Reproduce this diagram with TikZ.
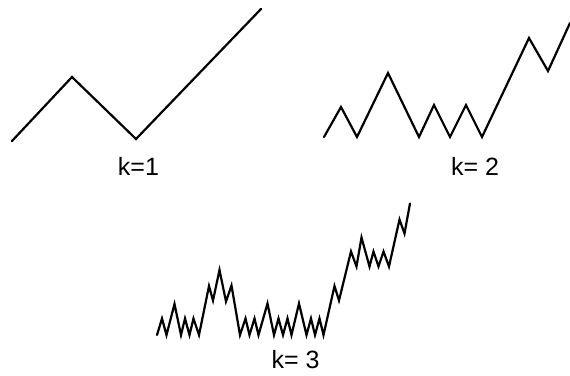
\documentclass[tikz,border=0pt]{standalone}
\usepackage{fontspec}
\setmainfont{Liberation Sans}
\tikzstyle{curve}=[line width=1.1pt,line join=miter,line cap=round]
\tikzstyle{lbl}=[inner sep=0pt,font=\fontsize{12.5}{15}\selectfont]

\begin{document}
\begin{tikzpicture}[x=0.5pt,y=-0.5pt]
\useasboundingbox (0,0) rectangle (570,376);
\draw [curve] (12,141) -- (72,77) -- (136,139) -- (261,9);
\draw [curve] (324,137) -- (341,107) -- (357,137) -- (388,73) -- (419,137) -- (434,105)
  -- (450,137) -- (466,105) -- (482,137) -- (529,38) -- (548,71) -- (570,23);
\draw [curve] (157,335) -- (162,318.5) -- (166.5,335) -- (174.5,304) -- (181,335)
  -- (185,318.5) -- (189.5,335) -- (193.5,318.5) -- (199,335) -- (209,286) -- (213,300.5)
  -- (219.5,270) -- (226,301.5) -- (231.5,285.5) -- (240,335) -- (245.5,318.5) -- (249.5,335)
  -- (254.5,318.5) -- (258.5,335) -- (267.5,303.5) -- (274,335) -- (278.5,318.5) -- (283,335)
  -- (287.5,318.5) -- (291.5,335) -- (299,303.5) -- (306.5,335) -- (311,318.5) -- (315,335)
  -- (319.5,318.5) -- (323.5,335) -- (334.5,286) -- (339,300.5) -- (351,251.5) -- (356.5,266.5)
  -- (361.5,237.5) -- (369.5,266.5) -- (373.5,251.5) -- (378.5,266.5) -- (383.5,251.5)
  -- (389,266.5) -- (399.5,219.5) -- (404.5,233.5) -- (410,203.5);
\node (k1) [lbl] at (138.5,166) {k=1};
\node (k2) [lbl] at (475,166.5) {k= 2};
\node (k3) [lbl] at (295.5,359.5) {k= 3};
\end{tikzpicture}
\end{document}
